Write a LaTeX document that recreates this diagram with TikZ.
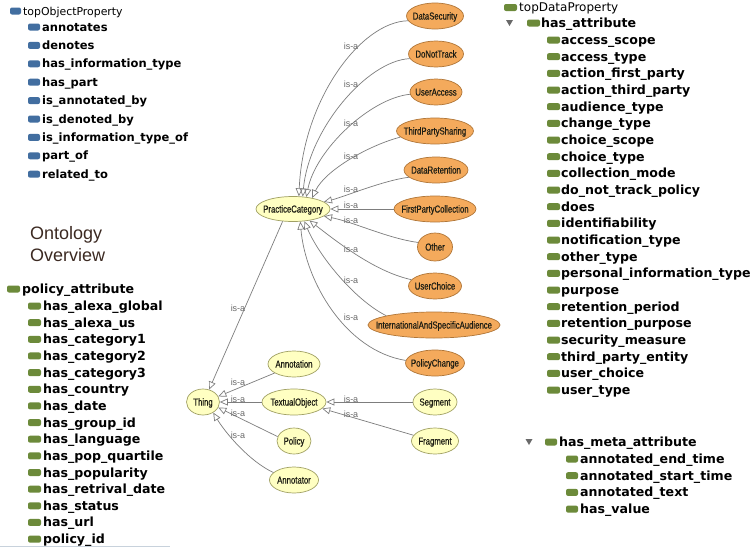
\documentclass[tikz,border=0pt]{standalone}
\usepackage{fontspec}
\setmainfont{DejaVu Sans}
\newfontfamily\nodefont[FakeStretch=0.76,FakeBold=0.6]{Liberation Sans}
\newfontfamily\titlefont{Liberation Sans}
\usetikzlibrary{shapes.geometric,arrows.meta}
\definecolor{orfill}{RGB}{244,170,92}
\definecolor{ordraw}{RGB}{176,118,56}
\definecolor{yefill}{RGB}{255,255,194}
\definecolor{yedraw}{RGB}{160,160,100}
\definecolor{edgec}{RGB}{125,125,125}
\definecolor{labc}{RGB}{105,105,105}
\definecolor{blueic}{RGB}{66,110,160}
\definecolor{greenic}{RGB}{108,138,58}
\definecolor{titlec}{RGB}{60,42,34}
\definecolor{rulec}{RGB}{200,210,220}
\definecolor{nodetext}{RGB}{30,30,20}
\newcommand{\nt}[1]{\makebox[0pt]{\raisebox{-3.6pt}[0pt][0pt]{#1}}}
\tikzset{
  onode/.style={ellipse, draw=ordraw, fill=orfill, line width=0.7pt, inner sep=0pt, minimum height=26pt, text=nodetext, font=\nodefont\fontsize{10.2}{11}\selectfont},
  ynode/.style={ellipse, draw=yedraw, fill=yefill, line width=0.7pt, inner sep=0pt, minimum height=26pt, text=nodetext, font=\nodefont\fontsize{10.2}{11}\selectfont},
  isa/.style={draw=edgec, line width=0.7pt, -{Triangle[open,length=8pt,width=7pt]}},
  lab/.style={font=\titlefont\fontsize{9}{10}\selectfont, text=labc, inner sep=0pt},
  hdrA/.style={anchor=base west, inner sep=0pt, font=\fontsize{10.9}{12}\selectfont},
  hdrB/.style={anchor=base west, inner sep=0pt, font=\fontsize{12}{13}\selectfont},
  itemA/.style={anchor=base west, inner sep=0pt, font=\bfseries\fontsize{11.5}{12}\selectfont},
  itemB/.style={anchor=base west, inner sep=0pt, font=\bfseries\fontsize{12.6}{13}\selectfont},
  bicon/.style={fill=blueic, rounded corners=2pt},
  gicon/.style={fill=greenic, rounded corners=2pt},
  tri/.style={fill=labc},
}
\begin{document}
\begin{tikzpicture}[x=1pt,y=-1pt]
\useasboundingbox (0,0) rectangle (755,549);
\fill[white] (0,0) rectangle (755,549);

% ---------- top object properties ----------
\fill[bicon] (10,7.5) rectangle (21,14.5);
\node[hdrA] (top) at (23,15) {topObjectProperty};
\foreach \t [count=\i from 0] in {annotates,denotes,has\_information\_type,has\_part,is\_annotated\_by,is\_denoted\_by,is\_information\_type\_of,part\_of,related\_to}{
  \pgfmathsetmacro\yy{27+\i*18.4}
  \fill[bicon] (28,\yy-3.5) rectangle (40,\yy+3.5);
  \node[itemA] (op\i) at (42,\yy+4.1) {\t};
}

% ---------- title ----------
\node[anchor=base west, inner sep=0pt, font=\titlefont\fontsize{18}{20}\selectfont, text=titlec] (ont) at (30,239.5) {Ontology};
\node[anchor=base west, inner sep=0pt, font=\titlefont\fontsize{18}{20}\selectfont, text=titlec] (ovw) at (30,261.5) {Overview};

% ---------- policy attributes ----------
\fill[gicon] (7,285.5) rectangle (20,292.5);
\node[itemB] (pa) at (22,293.5) {policy\_attribute};
\foreach \t [count=\i from 0] in {has\_alexa\_global,has\_alexa\_us,has\_category1,has\_category2,has\_category3,has\_country,has\_date,has\_group\_id,has\_language,has\_pop\_quartile,has\_popularity,has\_retrival\_date,has\_status,has\_url,policy\_id}{
  \pgfmathsetmacro\yy{306+\i*16.65}
  \fill[gicon] (28,\yy-3.5) rectangle (41,\yy+3.5);
  \node[itemB] (pa\i) at (43,\yy+4.5) {\t};
}
\draw[rulec, line width=1pt] (0,546) -- (170,546);

% ---------- top data properties ----------
\fill[gicon] (504,4) rectangle (517,11);
\node[hdrB] (tdp) at (519,11.5) {topDataProperty};
\fill[tri] (506,20) -- (513,20) -- (509.5,26) -- cycle;
\fill[gicon] (527,19.5) rectangle (540,26.5);
\node[itemB] (ha) at (541,27.5) {has\_attribute};
\foreach \t [count=\i from 0] in {access\_scope,access\_type,action\_first\_party,action\_third\_party,audience\_type,change\_type,choice\_scope,choice\_type,collection\_mode,do\_not\_track\_policy,does,identifiability,notification\_type,other\_type,personal\_information\_type,purpose,retention\_period,retention\_purpose,security\_measure,third\_party\_entity,user\_choice,user\_type}{
  \pgfmathsetmacro\yy{40+\i*16.67}
  \fill[gicon] (547,\yy-3.5) rectangle (560,\yy+3.5);
  \node[itemB] (at\i) at (561,\yy+4.5) {\t};
}
\fill[tri] (525.5,439) -- (532.5,439) -- (529,445) -- cycle;
\fill[gicon] (545,438.5) rectangle (557,445.5);
\node[itemB] (hma) at (559,446.5) {has\_meta\_attribute};
\foreach \t [count=\i from 0] in {annotated\_end\_time,annotated\_start\_time,annotated\_text,has\_value}{
  \pgfmathsetmacro\yy{459+\i*16.7}
  \fill[gicon] (566,\yy-3.5) rectangle (578,\yy+3.5);
  \node[itemB] (ma\i) at (580,\yy+4.5) {\t};
}

% ---------- graph nodes ----------
\node[onode, minimum width=57pt] (ds) at (435,16) {\nt{DataSecurity}};
\node[onode, minimum width=55pt] (dnt) at (436,54) {\nt{DoNotTrack}};
\node[onode, minimum width=52pt] (ua) at (436,92) {\nt{UserAccess}};
\node[onode, minimum width=77pt] (tps) at (435,131) {\nt{ThirdPartySharing}};
\node[onode, minimum width=64pt] (dr) at (436,170) {\nt{DataRetention}};
\node[onode, minimum width=82pt] (fpc) at (435,209) {\nt{FirstPartyCollection}};
\node[onode, minimum width=35pt, minimum height=28pt] (oth) at (435,247) {\nt{Other}};
\node[onode, minimum width=53pt] (uc) at (435,286) {\nt{UserChoice}};
\node[onode, minimum width=132pt] (iasa) at (434,325) {\nt{InternationalAndSpecificAudience}};
\node[onode, minimum width=59pt] (pch) at (435,363) {\nt{PolicyChange}};
\node[ynode, minimum width=74pt, minimum height=25pt] (pc) at (293,209) {\nt{PracticeCategory}};
\node[ynode, minimum width=33pt] (thing) at (203,402) {\nt{Thing}};
\node[ynode, minimum width=52pt] (ann) at (294,364) {\nt{Annotation}};
\node[ynode, minimum width=64pt] (to) at (294,402) {\nt{TextualObject}};
\node[ynode, minimum width=34pt] (pol) at (294,441) {\nt{Policy}};
\node[ynode, minimum width=49pt] (antr) at (294,480) {\nt{Annotator}};
\node[ynode, minimum width=44pt] (seg) at (435,402) {\nt{Segment}};
\node[ynode, minimum width=47pt] (frag) at (435,441) {\nt{Fragment}};

% ---------- edges ----------
\draw[isa] (ds.190) .. controls +(-47,1) and +(4,-97) .. (pc.65);
\draw[isa] (dnt.190) .. controls +(-43,2) and +(6,-67) .. (pc.52);
\draw[isa] (ua.185) .. controls +(-40,4) and +(9,-47) .. (pc.42);
\draw[isa] (tps.190) .. controls +(-31,8) and +(13,-28) .. (pc.30);
\draw[isa] (dr.195) .. controls +(-25,3) and +(20,-5) .. (pc.13);
\draw[isa] (fpc.west) -- (pc.east);
\draw[isa] (oth.165) .. controls +(-30,-4) and +(30,6) .. (pc.-13);
\draw[isa] (uc.165) .. controls +(-37,-8) and +(26,20) .. (pc.-35);
\draw[isa] (iasa.169) .. controls +(-32,-16) and +(14,34) .. (pc.-47);
\draw[isa] (pch.175) .. controls +(-61,-10) and +(5,59) .. (pc.-60);
\draw[isa] (pc.-130) -- (thing.64);
\draw[isa] (ann.205) -- (thing.20);
\draw[isa] (to.west) -- (thing.east);
\draw[isa] (pol.165) -- (thing.-20);
\draw[isa] (antr.160) .. controls +(-24,-11) and +(12,20) .. (thing.-46);
\draw[isa] (seg.west) -- (to.east);
\draw[isa] (frag.165) -- (to.-13);

% ---------- labels ----------
\node[lab] (l1) at (351,46) {is-a};
\node[lab] (l2) at (351,84) {is-a};
\node[lab] (l3) at (351,123) {is-a};
\node[lab] (l4) at (351,156) {is-a};
\node[lab] (l5) at (351,189) {is-a};
\node[lab] (l6) at (351,205) {is-a};
\node[lab] (l7) at (351,220) {is-a};
\node[lab] (l8) at (351,249) {is-a};
\node[lab] (l9) at (351,280) {is-a};
\node[lab] (l10) at (351,317) {is-a};
\node[lab] (l11) at (238,308) {is-a};
\node[lab] (l12) at (238,382) {is-a};
\node[lab] (l13) at (238,399) {is-a};
\node[lab] (l14) at (238,413) {is-a};
\node[lab] (l15) at (238,435) {is-a};
\node[lab] (l16) at (351,399) {is-a};
\node[lab] (l17) at (351,414) {is-a};
\end{tikzpicture}
\end{document}
